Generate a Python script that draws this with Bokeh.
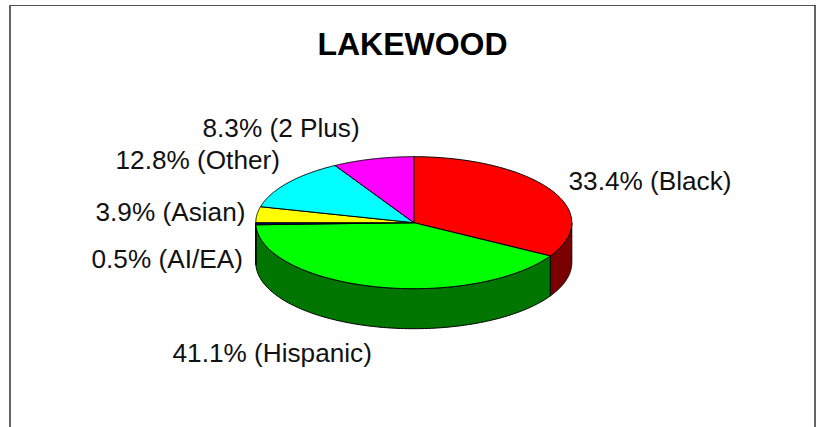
import numpy as np
from bokeh.core.properties import value
from bokeh.embed import file_html
from bokeh.models import ColumnDataSource, Range1d
from bokeh.plotting import figure
from bokeh.resources import INLINE

# Population shares, clockwise from twelve o'clock
groups = ["Black", "Hispanic", "AI/EA", "Asian", "Other", "2 Plus"]
shares = [33.4, 41.1, 0.5, 3.9, 12.8, 8.3]
top_colors = ["#ff0000", "#00ff00", "#000080", "#ffff00", "#00ffff", "#ff00ff"]
wall_colors = ["#7a0000", "#007500", "#000040", "#808000", "#008080", "#800080"]

title_text = "LAKEWOOD"

# Layout in page pixels
W, H = 816, 427
CX, CY, RX, RY, DEPTH = 413.3, 222.2, 158, 66, 40
LABEL_ANCHORS = {
    "Black": (568, 180),
    "Hispanic": (172, 352.5),
    "AI/EA": (91, 258),
    "Asian": (95, 211),
    "Other": (115, 159),
    "2 Plus": (202, 127),
}

p = figure(width=W, height=H, output_backend="svg", toolbar_location=None,
           x_range=Range1d(0, W), y_range=Range1d(H, 0), min_border=0,
           outline_line_color=None, background_fill_color="white")
p.axis.visible = False
p.grid.visible = False


def rim(a0, a1, n=120):
    t = np.radians(np.linspace(a0, a1, n))
    return CX + RX * np.sin(t), CY - RY * np.cos(t)


edges = np.cumsum([0] + shares) * 3.6

# Side wall: only the front half of the rim (90 to 270 degrees) faces the viewer
wall_xs, wall_ys, wall_fill = [], [], []
for a0, a1, c in zip(edges[:-1], edges[1:], wall_colors):
    lo, hi = max(a0, 90), min(a1, 270)
    if hi <= lo:
        continue
    x, y = rim(lo, hi)
    wall_xs.append(np.concatenate([x, x[::-1]]))
    wall_ys.append(np.concatenate([y, y[::-1] + DEPTH]))
    wall_fill.append(c)
p.patches(wall_xs, wall_ys, fill_color=wall_fill, line_color="black", line_width=1)

# Top face of the disc
top_xs, top_ys = [], []
for a0, a1 in zip(edges[:-1], edges[1:]):
    x, y = rim(a0, a1)
    top_xs.append(np.concatenate([[CX], x]))
    top_ys.append(np.concatenate([[CY], y]))
p.patches(top_xs, top_ys, fill_color=top_colors, line_color="black", line_width=1)

# Data labels
labels = ColumnDataSource(dict(
    x=[LABEL_ANCHORS[g][0] for g in groups],
    y=[LABEL_ANCHORS[g][1] for g in groups],
    text=[f"{s:.1f}% ({g})" for s, g in zip(shares, groups)],
))
p.text("x", "y", text="text", source=labels, text_font=value("Liberation Sans"),
       text_font_size="26.2px", text_color="#111111", text_align="left",
       text_baseline="middle")

p.text([412], [43], text=[title_text], text_font=value("Liberation Sans"),
       text_font_size="32px", text_font_style="bold", text_color="black",
       text_align="center", text_baseline="middle")

# Chart frame, open along the bottom of the page
p.line([9.5, 9.5], [H, 4.5], line_color="#111111", line_width=1.3)
p.line([9.5, 814.5], [5, 5], line_color="#555555", line_width=1)
p.line([814.5, 814.5], [4.5, H], line_color="#111111", line_width=1.3)

open("out.html", "w").write(file_html(p, INLINE))
